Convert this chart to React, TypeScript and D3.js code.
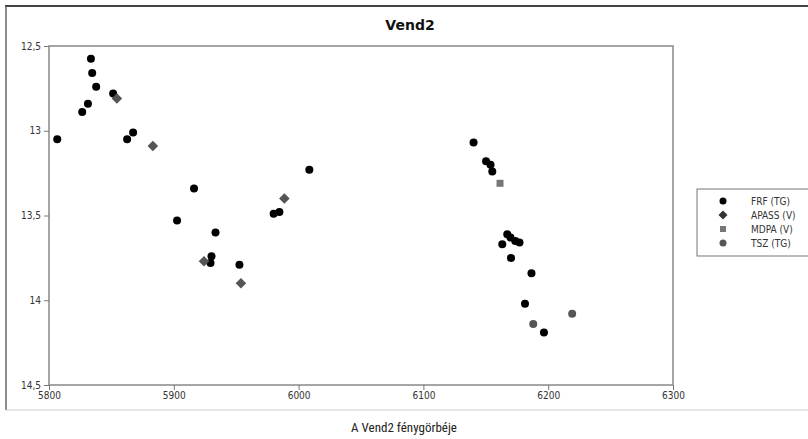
import React, { useEffect, useRef } from "react";
import * as d3 from "d3";

// FRF (TG) observations
const frfJD = [5806.6, 5833.6, 5834.6, 5837.8, 5851.4, 5831.2, 5826.6, 5867.4, 5862.6, 5916.2,
  6008.6, 5984.6, 5980, 5902.6, 5933.4, 5930.2, 5929.4, 5952.6,
  6140.2, 6150.2, 6153.8, 6155.2, 6167.2, 6169.8, 6173.6, 6177, 6163.2, 6170.2, 6186.6, 6181.4, 6196.6];
const frfMag = [13.05, 12.575, 12.66, 12.74, 12.78, 12.84, 12.89, 13.01, 13.05, 13.34,
  13.23, 13.48, 13.49, 13.53, 13.6, 13.74, 13.78, 13.79,
  13.07, 13.18, 13.2, 13.24, 13.61, 13.63, 13.65, 13.66, 13.67, 13.75, 13.84, 14.02, 14.19];

// APASS (V)
const apassJD = [5854.4, 5883.2, 5988.6, 5924.2, 5953.8];
const apassMag = [12.81, 13.09, 13.4, 13.77, 13.9];

// MDPA (V)
const mdpaJD = [6161.4];
const mdpaMag = [13.31];

// TSZ (TG)
const tszJD = [6219.2, 6188];
const tszMag = [14.08, 14.14];

const xTicks = [5800, 5900, 6000, 6100, 6200, 6300];
const yTicks = [12.5, 13, 13.5, 14, 14.5];
const legendNames = ["FRF (TG)", "APASS (V)", "MDPA (V)", "TSZ (TG)"];

const W = 808;
const H = 439;
const plot = { left: 49, right: 673, top: 46, bottom: 385 };

const App = () => {
  const ref = useRef<SVGSVGElement | null>(null);

  useEffect(() => {
    const svg = d3.select(ref.current);
    svg.selectAll("*").remove();

    const x = d3.scaleLinear().domain([5800, 6300]).range([plot.left, plot.right]);
    const y = d3.scaleLinear().domain([12.5, 14.5]).range([plot.top, plot.bottom]);

    // outer panel frame
    svg.append("line").attr("x1", 5).attr("x2", W).attr("y1", 6).attr("y2", 6)
      .attr("stroke", "#444").attr("stroke-width", 2);
    svg.append("line").attr("x1", 6).attr("x2", 6).attr("y1", 6).attr("y2", 410)
      .attr("stroke", "#666").attr("stroke-width", 1.5);
    svg.append("line").attr("x1", 6).attr("x2", W).attr("y1", 410).attr("y2", 410)
      .attr("stroke", "#ccc").attr("stroke-width", 1);

    // title
    svg.append("text").attr("x", 410).attr("y", 30).attr("text-anchor", "middle")
      .attr("font-family", "DejaVu Sans").attr("font-weight", "bold").attr("font-size", 14)
      .attr("fill", "#111").text("Vend2");

    // plot box
    svg.append("rect").attr("x", plot.left).attr("y", plot.top)
      .attr("width", plot.right - plot.left).attr("height", plot.bottom - plot.top)
      .attr("fill", "white").attr("stroke", "#888").attr("stroke-width", 1.5);

    const tickFont = "DejaVu Sans Condensed, DejaVu Sans";
    // x axis
    const gx = svg.append("g").attr("transform", `translate(0,${plot.bottom})`)
      .call(d3.axisBottom(x).tickValues(xTicks).tickSize(5).tickPadding(2).tickFormat(d3.format("d")));
    gx.select(".domain").remove();
    gx.selectAll("line").attr("stroke", "#777");
    gx.selectAll("text").attr("font-family", tickFont).attr("font-size", 10).attr("fill", "#333");

    // y axis
    const gy = svg.append("g").attr("transform", `translate(${plot.left},0)`)
      .call(d3.axisLeft(y).tickValues(yTicks).tickSize(5).tickPadding(3)
        .tickFormat((d) => String(d).replace(".", ",")));
    gy.select(".domain").remove();
    gy.selectAll("line").attr("stroke", "#777");
    gy.selectAll("text").attr("font-family", tickFont).attr("font-size", 10).attr("fill", "#333");

    const pts = svg.append("g");
    // FRF
    pts.selectAll("circle.frf").data(d3.range(frfJD.length)).join("circle")
      .attr("class", "frf")
      .attr("cx", (i) => x(frfJD[i])).attr("cy", (i) => y(frfMag[i]))
      .attr("r", 4).attr("fill", "#000");
    // TSZ
    pts.selectAll("circle.tsz").data(d3.range(tszJD.length)).join("circle")
      .attr("class", "tsz")
      .attr("cx", (i) => x(tszJD[i])).attr("cy", (i) => y(tszMag[i]))
      .attr("r", 4).attr("fill", "#555");
    // APASS diamonds
    const diamond = d3.symbol().type(d3.symbolSquare).size(56);
    pts.selectAll("path.apass").data(d3.range(apassJD.length)).join("path")
      .attr("class", "apass")
      .attr("d", diamond)
      .attr("transform", (i) => `translate(${x(apassJD[i])},${y(apassMag[i])}) rotate(45)`)
      .attr("fill", "#555");
    // MDPA squares
    pts.selectAll("rect.mdpa").data(d3.range(mdpaJD.length)).join("rect")
      .attr("class", "mdpa")
      .attr("x", (i) => x(mdpaJD[i]) - 3.5).attr("y", (i) => y(mdpaMag[i]) - 3.5)
      .attr("width", 7).attr("height", 7).attr("fill", "#777");

    // legend
    const lg = svg.append("g");
    lg.append("rect").attr("x", 697).attr("y", 189).attr("width", 120).attr("height", 67)
      .attr("fill", "white").attr("stroke", "#777").attr("stroke-width", 1);
    const rowY = (i: number) => 201 + i * 14;
    legendNames.forEach((name, i) => {
      const cy = rowY(i);
      if (i === 0) lg.append("circle").attr("cx", 723).attr("cy", cy).attr("r", 3.5).attr("fill", "#000");
      if (i === 1) lg.append("path").attr("d", d3.symbol().type(d3.symbolSquare).size(40)())
        .attr("transform", `translate(723,${cy}) rotate(45)`).attr("fill", "#333");
      if (i === 2) lg.append("rect").attr("x", 720).attr("y", cy - 3).attr("width", 6).attr("height", 6).attr("fill", "#777");
      if (i === 3) lg.append("circle").attr("cx", 723).attr("cy", cy).attr("r", 3.5).attr("fill", "#555");
      lg.append("text").attr("x", 751).attr("y", cy + 3.5)
        .attr("font-family", tickFont).attr("font-size", 10).attr("fill", "#333").text(name);
    });

    // caption
    svg.append("text").attr("x", 404).attr("y", 432).attr("text-anchor", "middle")
      .attr("font-family", "Liberation Sans Narrow, Roboto Condensed, Roboto").attr("font-size", 13)
      .attr("fill", "#222").text("A Vend2 fénygörbéje");
  }, []);

  return (
    <svg ref={ref} width={W} height={H}
      style={{ position: "absolute", left: 0, top: 0, background: "white" }} />
  );
};

export default App;
